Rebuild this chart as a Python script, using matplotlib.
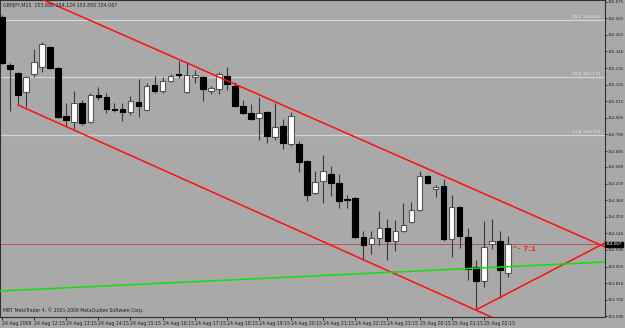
import numpy as np
import matplotlib.pyplot as plt

# GBPJPY M15, 24 Aug 2009 11:15 -> 25 Aug 2009 03:00 (64 bars)
opens = [155.573, 155.255, 155.202, 155.076, 155.196, 155.242, 155.375, 155.235,
         154.917, 154.877, 155.003, 154.877, 155.056, 155.043, 154.964, 154.964,
         154.944, 155.010, 154.957, 155.123, 155.083, 155.149, 155.196, 155.076,
         155.176, 155.176, 155.083, 155.096, 155.182, 155.116, 154.984, 154.937,
         154.904, 154.944, 154.778, 154.851, 154.732, 154.732, 154.619, 154.407,
         154.487, 154.533, 154.473, 154.367, 154.374, 154.115, 154.069, 154.109,
         154.175, 154.089, 154.155, 154.215, 154.294, 154.520, 154.434, 154.453,
         154.102, 154.314, 154.115, 153.917, 153.824, 154.069, 154.089, 153.880]
highs = [155.587, 155.269, 155.209, 155.182, 155.361, 155.408, 155.381, 155.242,
         155.003, 155.083, 155.023, 155.070, 155.109, 155.070, 155.003, 155.003,
         155.050, 155.162, 155.136, 155.182, 155.176, 155.196, 155.282, 155.275,
         155.222, 155.182, 155.116, 155.209, 155.242, 155.143, 155.023, 154.997,
         155.043, 154.950, 155.003, 154.897, 154.943, 154.752, 154.626, 154.553,
         154.659, 154.586, 154.533, 154.394, 154.381, 154.155, 154.155, 154.288,
         154.235, 154.228, 154.341, 154.347, 154.553, 154.526, 154.460, 154.500,
         154.394, 154.321, 154.175, 153.963, 154.221, 154.235, 154.155, 154.124]
lows = [155.262, 154.950, 154.990, 154.977, 155.176, 155.209, 155.229, 154.904,
        154.844, 154.831, 154.858, 154.871, 155.023, 154.937, 154.944, 154.884,
        154.924, 154.911, 154.954, 155.070, 155.070, 155.146, 155.169, 155.073,
        155.136, 155.017, 155.063, 155.063, 155.090, 154.977, 154.931, 154.891,
        154.758, 154.738, 154.758, 154.699, 154.718, 154.546, 154.354, 154.400,
        154.341, 154.387, 154.308, 154.308, 154.109, 153.963, 154.003, 154.062,
        153.963, 154.023, 154.148, 154.208, 154.287, 154.466, 154.381, 154.089,
        153.983, 154.043, 153.830, 153.632, 153.784, 154.036, 153.711, 153.850]
closes = [155.269, 155.229, 155.056, 155.176, 155.275, 155.394, 155.235, 154.911,
          154.891, 155.003, 154.871, 155.056, 155.046, 154.964, 154.960, 154.944,
          155.017, 154.984, 155.116, 155.083, 155.149, 155.182, 155.191, 155.189,
          155.189, 155.096, 155.103, 155.196, 155.129, 154.984, 154.937, 154.897,
          154.937, 154.785, 154.844, 154.738, 154.917, 154.612, 154.394, 154.480,
          154.553, 154.473, 154.354, 154.364, 154.115, 154.062, 154.109, 154.175,
          154.089, 154.155, 154.195, 154.294, 154.520, 154.473, 154.447, 154.102,
          154.314, 154.122, 153.903, 153.824, 154.049, 154.089, 153.897, 154.067]

time_labels = ["24 Aug 2009", "24 Aug 12:15", "24 Aug 13:15", "24 Aug 14:15",
               "24 Aug 15:15", "24 Aug 16:15", "24 Aug 17:15", "24 Aug 18:15",
               "24 Aug 19:15", "24 Aug 20:15", "24 Aug 21:15", "24 Aug 22:15",
               "24 Aug 23:15", "25 Aug 00:15", "25 Aug 01:15", "25 Aug 02:15"]
price_ticks = [155.675, 155.565, 155.455, 155.345, 155.235, 155.125, 155.015,
               154.905, 154.795, 154.685, 154.580, 154.470, 154.360, 154.250,
               154.140, 154.030, 153.920, 153.810, 153.700, 153.590]

# fibo levels and drawn objects (bar index, price)
fibo_levels = [155.553, 155.173, 154.793]
fibo_names = ["38.2", "50.0", "61.8"]
upper_line = ([5.2, 75.1], [155.686, 154.05])
lower_line = ([2, 59, 61], [154.990, 153.632, 153.584])
rise_line = ([59, 75.1], [153.632, 154.077])
green_line = ([-0.25, 75.1], [153.758, 153.950])
bid = 154.067

bg = '#a9a9a9'
fig = plt.figure(figsize=(6.25, 3.28), dpi=100, facecolor=bg)
ax = fig.add_axes([0.0, 11.5 / 328, 605 / 625, 1 - 11.5 / 328])
ax.set_facecolor(bg)

x = np.arange(len(opens))
o = np.array(opens); c = np.array(closes)
ax.vlines(x, lows, highs, color='#3a3a3a', lw=0.8, zorder=2)
up = c >= o
body_h = np.maximum(np.abs(c - o), 0.004)
ax.bar(x[up], body_h[up], bottom=o[up], width=0.7, color='white',
       edgecolor='#555555', linewidth=0.8, zorder=3)
ax.bar(x[~up], body_h[~up], bottom=c[~up], width=0.7, color='black',
       edgecolor='black', linewidth=0.8, zorder=3)

for lvl, nm in zip(fibo_levels, fibo_names):
    ax.axhline(lvl, color='#d4d4d4', lw=0.9, zorder=1)
    ax.text(74.6, lvl + 0.008, f"{nm} {lvl:.3f}", fontsize=3.1, color='#e8e8e8',
            ha='right', va='bottom', zorder=4)

ax.axhline(bid, color='#b84848', lw=0.6, zorder=1)
ax.plot(*upper_line, color='#ff1010', lw=1.1, zorder=5)
ax.plot(*lower_line, color='#ff1010', lw=1.1, zorder=5)
ax.plot(*rise_line, color='#ff1010', lw=1.1, zorder=5)
ax.plot(*green_line, color='#10e010', lw=1.1, zorder=5)
ax.text(63.5, 154.035, "^- 7:1", fontsize=5, color='#ff2020', fontweight='bold',
        ha='left', va='center', zorder=6)

ax.set_xlim(-0.25, 75.1)
ax.set_ylim(153.589, 155.686)

ax.yaxis.tick_right()
ax.set_yticks(price_ticks)
ax.set_yticklabels([f"{p:.3f}" for p in price_ticks])
ax.set_xticks(np.arange(0, 64, 4))
ax.set_xticklabels(time_labels, ha='left')
ax.tick_params(axis='x', labelsize=3.3, length=2, width=0.6, pad=1,
               colors='#202020', direction='out')
ax.tick_params(axis='y', labelsize=2.85, length=1.5, width=0.6, pad=0.4,
               colors='#202020', direction='out')
for s in ax.spines.values():
    s.set_color('#303030')
    s.set_linewidth(0.8)

# current price box on the right scale
ax.text(75.2, bid, f"{bid:.3f}", fontsize=2.85, color='white', ha='left',
        va='center', clip_on=False, zorder=7,
        bbox=dict(boxstyle='square,pad=0.12', fc='black', ec='black'))

fig.text(3 / 625, 1 - 5 / 328, "GBPJPY,M15  153.880 154.124 153.850 154.067",
         fontsize=3.4, color='#202020', ha='left', va='center')
fig.text(3 / 625, 1 - 310 / 328,
         "MBT MetaTrader 4, \u00a9 2001-2009 MetaQuotes Software Corp.",
         fontsize=3.3, color='#202020', ha='left', va='center')

fig.savefig('out.png', dpi=100, facecolor=bg)
